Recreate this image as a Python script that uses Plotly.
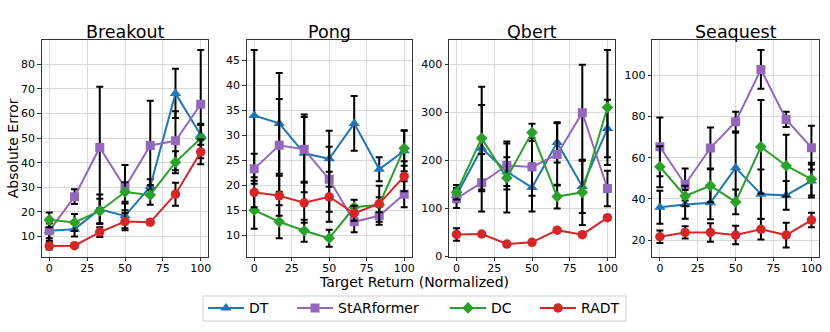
import plotly.graph_objects as go

W, H = 830, 332
x_vals = [0, 100/6, 200/6, 50, 400/6, 500/6, 100]
games = ["Breakout", "Pong", "Qbert", "Seaquest"]
methods = ["DT", "StARformer", "DC", "RADT"]

breakout_dt = [12.3, 13.0, 21.1, 18.4, 30.3, 68.2, 51.3]
breakout_dt_err = [4, 3, 6, 5, 3, 10, 4]
breakout_star = [12.3, 26.2, 46.2, 29.9, 47.0, 48.9, 63.8]
breakout_star_err = [3, 3, 24.7, 9.2, 18.2, 12, 22]
breakout_dc = [16.8, 15.7, 20.4, 28.1, 26.9, 40.2, 49.9]
breakout_dc_err = [3, 3.5, 5, 4, 4, 4.5, 6]
breakout_radt = [6.2, 6.3, 11.8, 16.1, 15.8, 27.2, 44.4]
breakout_radt_err = [1.5, 1, 2, 3.5, 1, 4.7, 5]

pong_dt = [34.0, 32.4, 26.4, 25.3, 32.4, 23.2, 26.9]
pong_dt_err = [13.1, 10.1, 7.8, 5.6, 5.5, 2.4, 4.1]
pong_star = [23.3, 28.0, 27.2, 21.2, 12.7, 13.9, 18.2]
pong_star_err = [3, 9.3, 6.5, 6.5, 2.1, 1.8, 2.6]
pong_dc = [15.0, 12.7, 10.9, 9.4, 15.6, 16.1, 27.4]
pong_dc_err = [3.7, 3.3, 2.2, 1.7, 1.5, 1.5, 3.5]
pong_radt = [18.6, 17.9, 16.5, 17.7, 14.4, 16.3, 21.8]
pong_radt_err = [3, 4, 4, 5, 1.5, 3.6, 3]

qbert_dt = [127, 225, 176, 143, 237, 145, 266]
qbert_dt_err = [15, 90, 30, 50, 42, 55, 60]
qbert_star = [120, 153, 189, 186, 212, 299, 141]
qbert_star_err = [20, 60, 50, 60, 65, 100, 37]
qbert_dc = [133, 246, 163, 258, 124, 133, 310]
qbert_dc_err = [15, 107, 72, 18, 25, 68, 120]
qbert_radt = [45, 46, 25, 28.5, 54, 44.5, 80]
qbert_radt_err = [13, 4, 3, 3, 4, 4, 5]

seaquest_dt = [35.9, 37.3, 38.1, 55.1, 42.3, 41.7, 48.7]
seaquest_dt_err = [8, 7, 8, 17, 12, 7, 8]
seaquest_star = [65.3, 47.0, 64.7, 77.5, 102.9, 78.6, 64.9]
seaquest_star_err = [14.3, 7.8, 10, 4.8, 9.4, 3.7, 10.6]
seaquest_dc = [55.6, 41.4, 46.4, 38.5, 65.3, 56.1, 49.6]
seaquest_dc_err = [10, 5, 8, 6, 22.7, 15, 8]
seaquest_radt = [21.6, 23.7, 23.7, 22.4, 25.2, 22.4, 29.7]
seaquest_radt_err = [3, 3, 4.5, 4.5, 5, 6, 3.5]

x_ticks = [0, 25, 50, 75, 100]
y_ticks = {
    "Breakout": [10, 20, 30, 40, 50, 60, 70, 80],
    "Pong": [10, 15, 20, 25, 30, 35, 40, 45],
    "Qbert": [0, 100, 200, 300, 400],
    "Seaquest": [20, 40, 60, 80, 100],
}
y_ranges = {
    "Breakout": [1.8, 89.9],
    "Pong": [5.7, 49.1],
    "Qbert": [-1.4, 450.8],
    "Seaquest": [11.9, 117.2],
}

data = {
    "Breakout": [(breakout_dt, breakout_dt_err), (breakout_star, breakout_star_err),
                 (breakout_dc, breakout_dc_err), (breakout_radt, breakout_radt_err)],
    "Pong": [(pong_dt, pong_dt_err), (pong_star, pong_star_err),
             (pong_dc, pong_dc_err), (pong_radt, pong_radt_err)],
    "Qbert": [(qbert_dt, qbert_dt_err), (qbert_star, qbert_star_err),
              (qbert_dc, qbert_dc_err), (qbert_radt, qbert_radt_err)],
    "Seaquest": [(seaquest_dt, seaquest_dt_err), (seaquest_star, seaquest_star_err),
                 (seaquest_dc, seaquest_dc_err), (seaquest_radt, seaquest_radt_err)],
}

colors = ["#1f77b4", "#9467bd", "#2ca02c", "#d62728"]
symbols = ["triangle-up", "square", "diamond", "circle"]
sizes = [10, 9, 9, 9.5]

px_domains = [(41.7, 208.3), (246.7, 411.7), (449, 615), (652.3, 819)]
y_dom = [1 - 256.7 / H, 1 - 40 / H]
legend_sym_x = [208, 297, 450, 540]
legend_names = ["legend", "legend2", "legend3", "legend4"]

FONT = "DejaVu Sans"
fig = go.Figure()
layout = {}
annotations = []
for gi, g in enumerate(games):
    ax = "" if gi == 0 else str(gi + 1)
    for mi, m in enumerate(methods):
        vals, errs = data[g][mi]
        fig.add_trace(go.Scatter(
            x=x_vals, y=vals, mode="lines+markers", name=m,
            legendgroup=m, showlegend=(gi == 0), legend=legend_names[mi],
            xaxis="x" + ax, yaxis="y" + ax,
            line=dict(color=colors[mi], width=2),
            marker=dict(symbol=symbols[mi], size=sizes[mi], color=colors[mi]),
            error_y=dict(type="data", array=errs, visible=True, color="black",
                         thickness=2, width=3.5),
        ))
    d0, d1 = px_domains[gi]
    common = dict(showgrid=True, gridcolor="#d9d9d9", gridwidth=1, automargin=False,
                  showline=True, linecolor="#333", linewidth=1, mirror=True,
                  ticks="outside", ticklen=3.5, tickcolor="#333",
                  tickfont=dict(family=FONT, size=11, color="black"), zeroline=False)
    layout["xaxis" + ax] = dict(domain=[d0 / W, d1 / W], range=[-5, 105],
                                tickvals=x_ticks, anchor="y" + ax, ticklabelstandoff=-2,
                                **common)
    layout["yaxis" + ax] = dict(domain=y_dom, range=y_ranges[g], tickvals=y_ticks[g],
                                anchor="x" + ax, **common)
    annotations.append(dict(text=g, x=(d0 + d1) / 2 / W, y=1 - 31.7 / H,
                            xref="paper", yref="paper", showarrow=False,
                            xanchor="center", yanchor="middle",
                            font=dict(family=FONT, size=17.5, color="black")))

annotations.append(dict(text="Absolute Error", x=13.3 / W, y=1 - 148 / H, xref="paper", yref="paper",
                        showarrow=False, textangle=-90, xanchor="center", yanchor="middle",
                        font=dict(family=FONT, size=14, color="black")))
annotations.append(dict(text="Target Return (Normalized)", x=413.5 / W, y=1 - 282 / H,
                        xref="paper", yref="paper", showarrow=False,
                        xanchor="center", yanchor="middle",
                        font=dict(family=FONT, size=14, color="black")))

for li, ln in enumerate(legend_names):
    layout[ln] = dict(orientation="h", x=(legend_sym_x[li] - 5) / W, y=1 - 308.3 / H,
                      xanchor="left", yanchor="middle", bgcolor="rgba(0,0,0,0)",
                      borderwidth=0, font=dict(family=FONT, size=14, color="black"),
                      itemwidth=36)

fig.add_shape(type="rect", xref="paper", yref="paper",
              x0=203 / W, x1=626 / W, y0=1 - 321 / H, y1=1 - 296 / H,
              line=dict(color="#d0d0d0", width=1), fillcolor="rgba(255,255,255,0.8)", layer="below")

fig.update_layout(
    template="none",
    width=W, height=H, margin=dict(l=0, r=0, t=0, b=0, autoexpand=False),
    paper_bgcolor="white", plot_bgcolor="white",
    annotations=annotations,
    **layout,
)

fig.write_html("out.html", config={"displayModeBar": False},
               post_script="document.body.style.margin='0px';")
